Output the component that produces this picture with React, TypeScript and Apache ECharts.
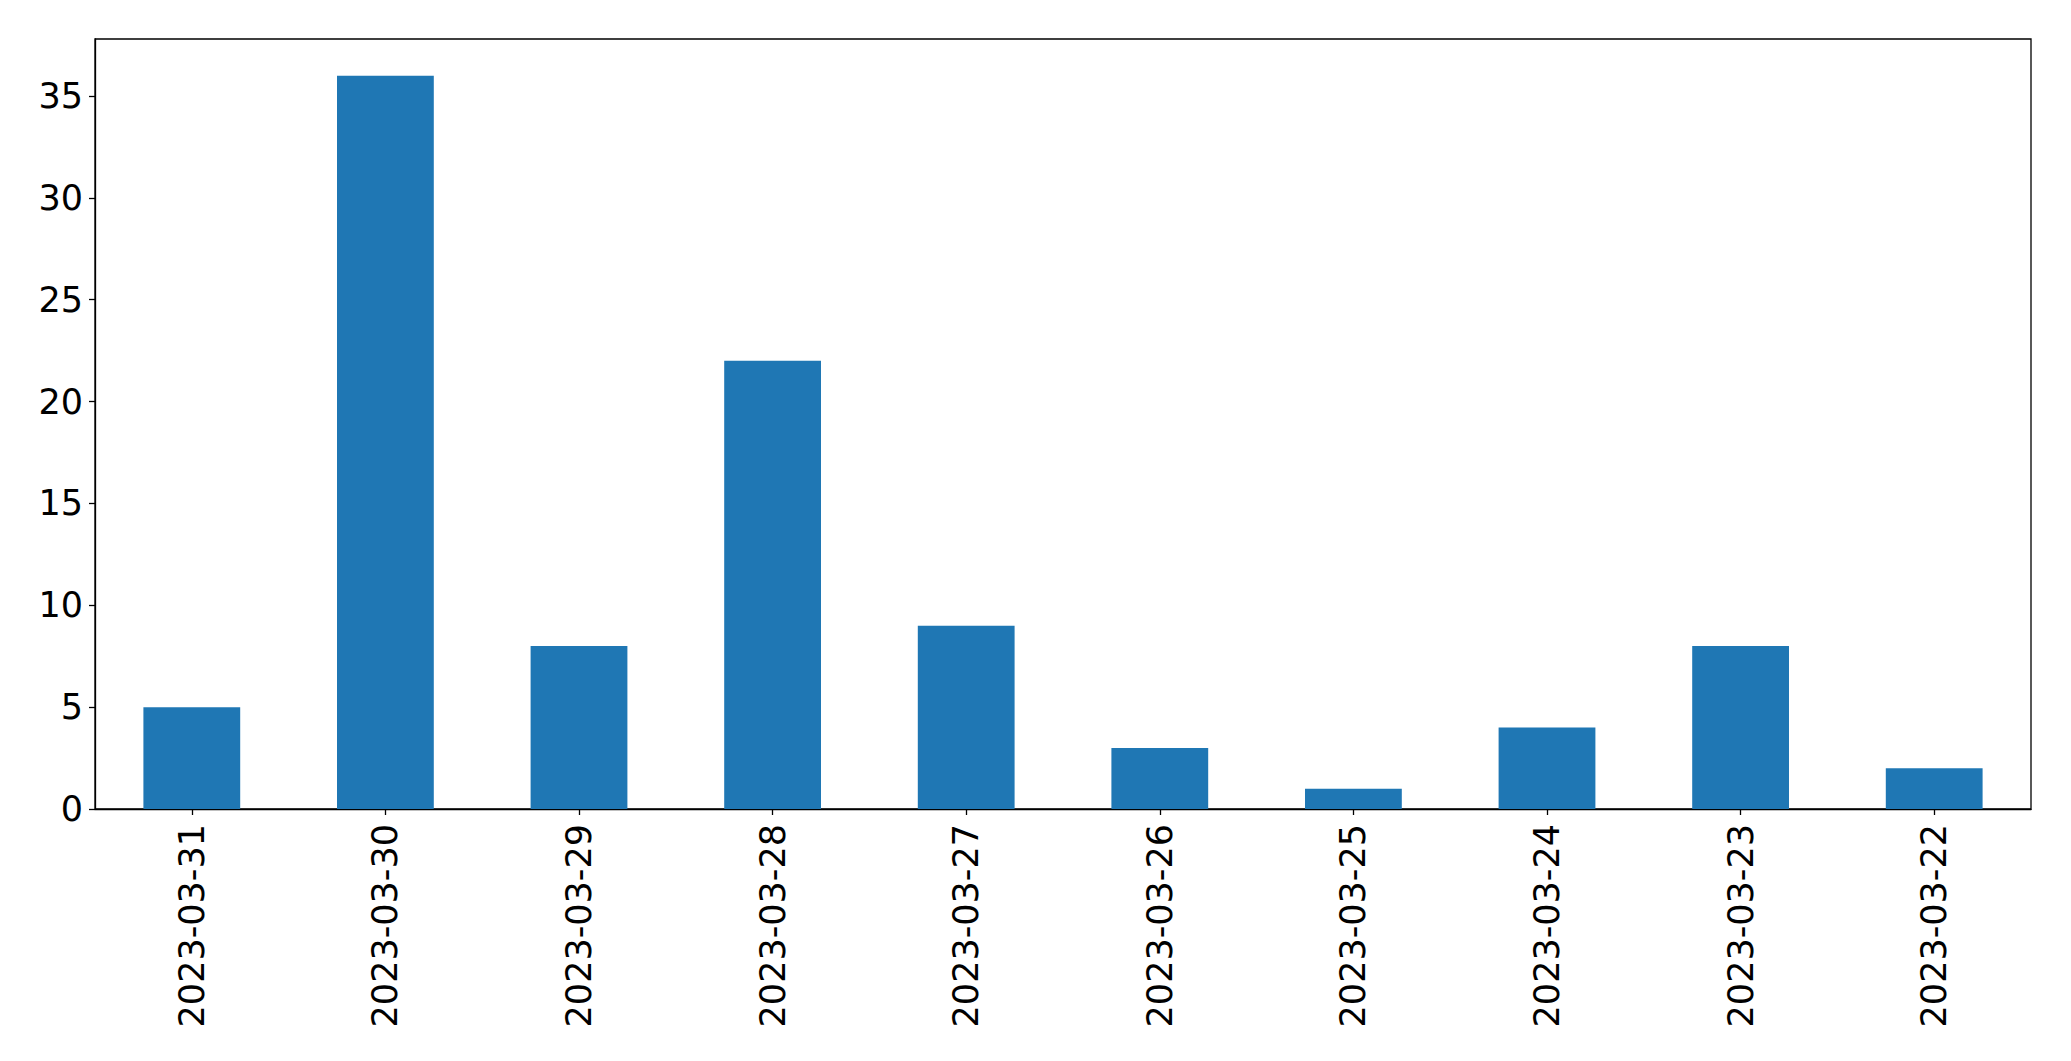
import React, { useEffect, useRef } from "react";
import * as echarts from "echarts";

const categories = [
  "2023-03-31",
  "2023-03-30",
  "2023-03-29",
  "2023-03-28",
  "2023-03-27",
  "2023-03-26",
  "2023-03-25",
  "2023-03-24",
  "2023-03-23",
  "2023-03-22",
];
const counts = [5, 36, 8, 22, 9, 3, 1, 4, 8, 2];
const yTicks = [0, 5, 10, 15, 20, 25, 30, 35];
const yMax = 37.8;

export default function App() {
  const ref = useRef<HTMLDivElement>(null);
  useEffect(() => {
    if (!ref.current) return;
    const chart = echarts.init(ref.current, undefined, { renderer: "svg" });
    const font = "DejaVu Sans";
    chart.setOption({
      animation: false,
      backgroundColor: "#ffffff",
      grid: {
        left: 95,
        top: 39,
        width: 1936,
        height: 770,
        show: true,
        borderColor: "#000000",
        borderWidth: 1.3,
        backgroundColor: "transparent",
      },
      xAxis: {
        type: "category",
        data: categories,
        boundaryGap: true,
        axisLine: { show: true, lineStyle: { color: "#000", width: 1.3 } },
        axisTick: { show: true, alignWithLabel: true, length: 6, lineStyle: { color: "#000", width: 1.3 } },
        axisLabel: {
          rotate: 90,
          interval: 0,
          fontSize: 35,
          fontFamily: font,
          color: "#000",
          margin: 15,
        },
        splitLine: { show: false },
      },
      yAxis: {
        type: "value",
        min: 0,
        max: yMax,
        axisLine: { show: true, lineStyle: { color: "#000", width: 1.3 } },
        axisTick: {
          show: true,
          length: 6,
          lineStyle: { color: "#000", width: 1.3 },
          customValues: yTicks,
        },
        axisLabel: {
          fontSize: 35,
          fontFamily: font,
          color: "#000",
          margin: 12,
          customValues: yTicks,
        },
        splitLine: { show: false },
      },
      series: [
        {
          type: "bar",
          data: counts,
          barWidth: "50%",
          itemStyle: { color: "#1f77b4" },
        },
      ],
    });
    return () => chart.dispose();
  }, []);
  return (
    <div
      ref={ref}
      style={{ position: "absolute", left: 0, top: 0, width: 2071, height: 1061 }}
    />
  );
}
